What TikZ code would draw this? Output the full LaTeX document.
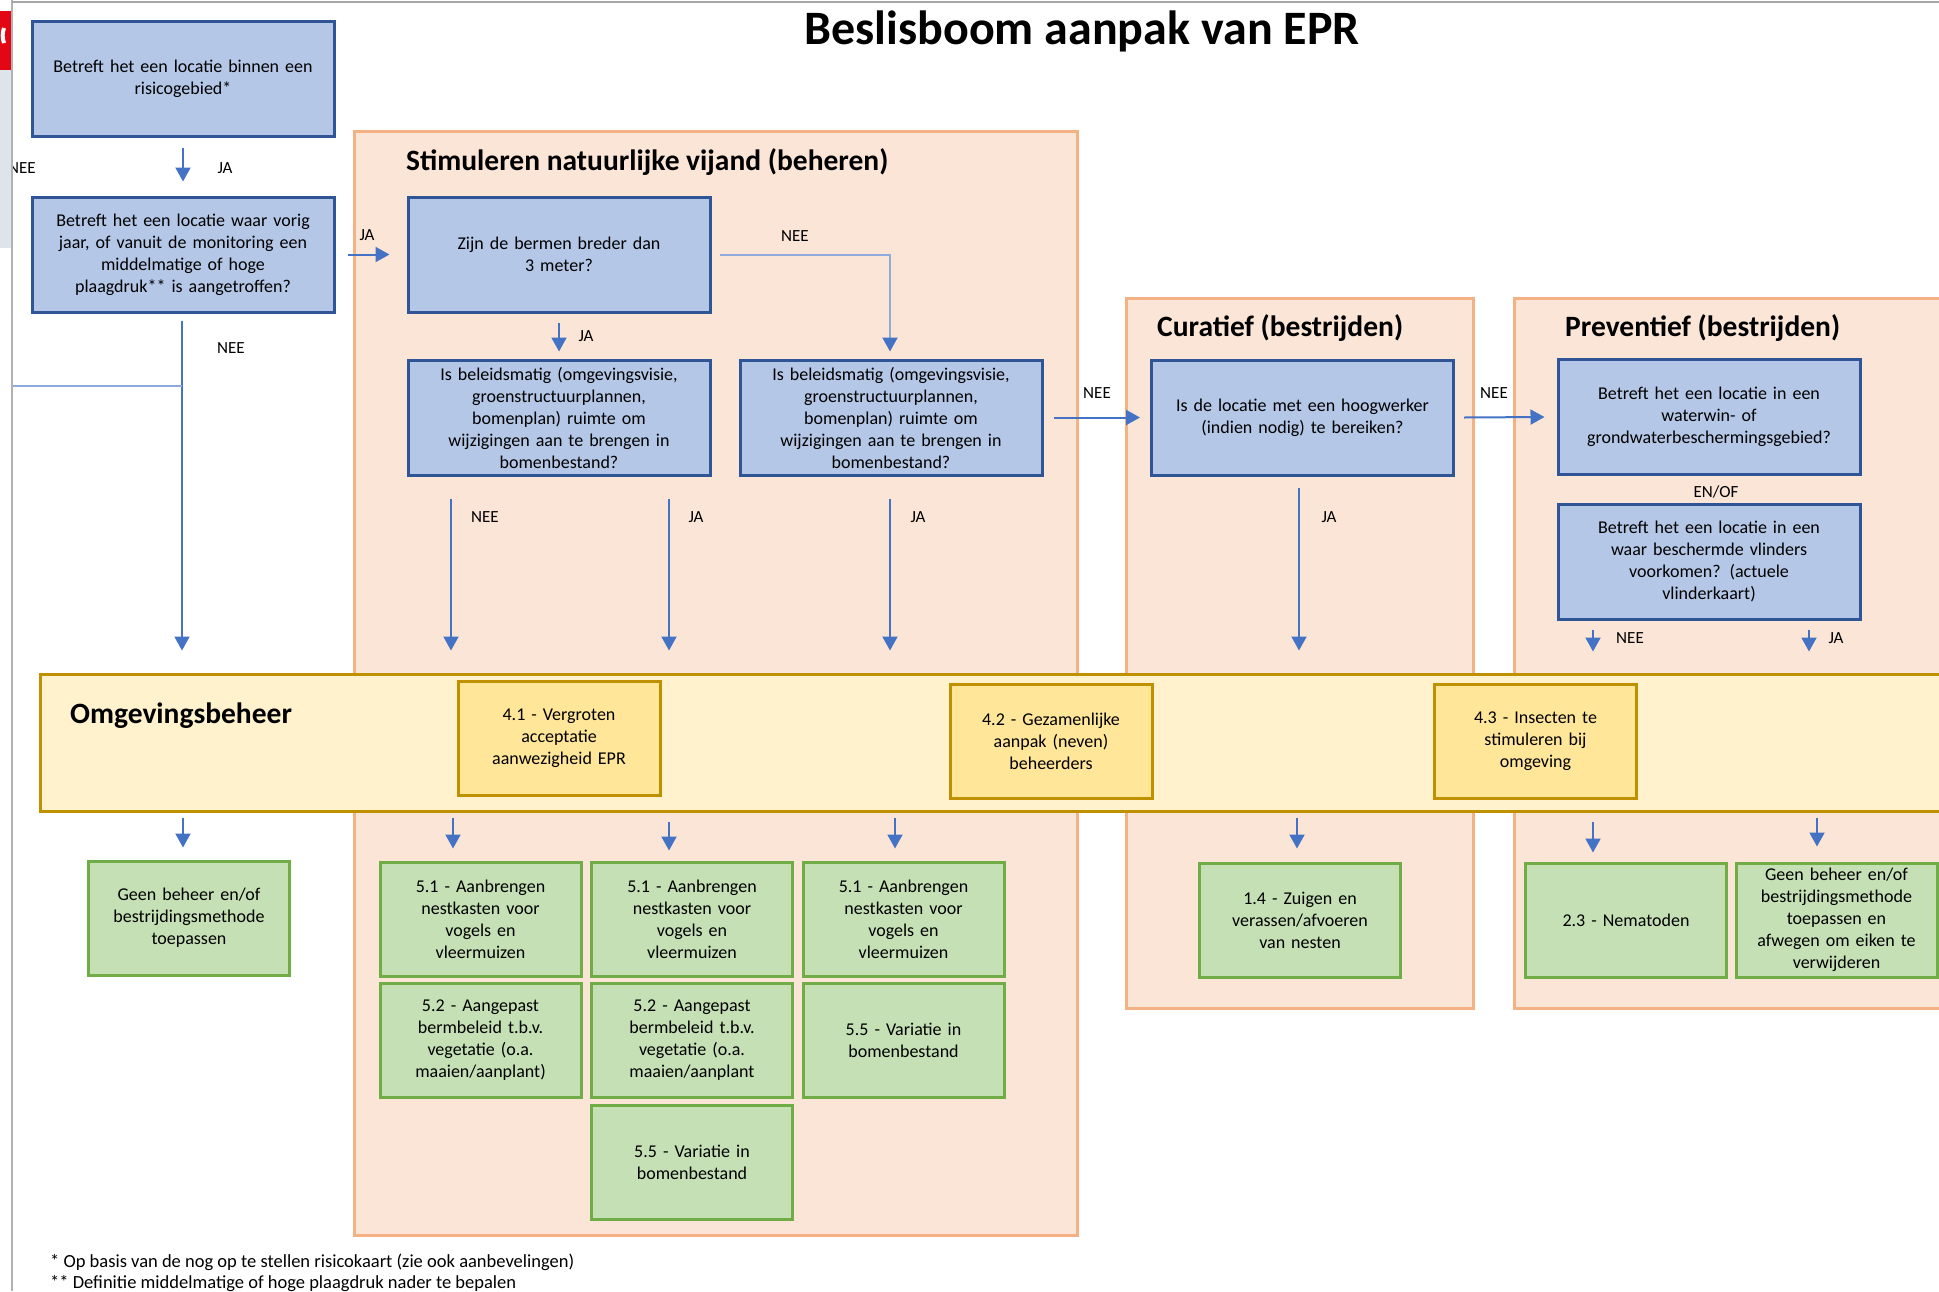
\documentclass[tikz,border=0pt]{standalone}
\usepackage{fontspec}
\setmainfont{Carlito}
\usetikzlibrary{arrows.meta,calc,positioning}

\definecolor{bluefill}{HTML}{B4C7E7}
\definecolor{blueline}{HTML}{2F5597}
\definecolor{orangefill}{HTML}{FBE5D6}
\definecolor{orangeline}{HTML}{F4B183}
\definecolor{bandfill}{HTML}{FFF2CC}
\definecolor{goldline}{HTML}{BF9000}
\definecolor{yelfill}{HTML}{FFE699}
\definecolor{greenfill}{HTML}{C5E0B4}
\definecolor{greenline}{HTML}{70AD47}
\definecolor{arrowblue}{HTML}{4472C4}
\definecolor{paleblue}{HTML}{8FAADC}
\definecolor{logored}{HTML}{E30613}
\definecolor{sidegrey}{HTML}{DFE4EA}

\begin{document}
\begin{tikzpicture}[x=1pt,y=-1pt,
	boxtext/.style={font=\fontsize{18}{22}\selectfont, align=center, inner sep=0pt},
	qbox/.style={boxtext, rectangle, draw=blueline, fill=bluefill, line width=3pt,
		minimum width=302pt, minimum height=115pt, text width=290pt},
	ybox/.style={boxtext, rectangle, draw=goldline, fill=yelfill, line width=3pt,
		minimum width=202pt, minimum height=114pt, text width=192pt},
	gbox/.style={boxtext, rectangle, draw=greenline, fill=greenfill, line width=3pt,
		minimum width=201pt, minimum height=114pt, text width=192pt},
	panel/.style={rectangle, draw=orangeline, fill=orangefill, line width=3pt, inner sep=0pt},
	bandbox/.style={rectangle, draw=goldline, fill=bandfill, line width=3pt, inner sep=0pt},
	paneltitle/.style={font=\fontsize{29.5}{34}\selectfont\bfseries, anchor=west, inner sep=0pt},
	lbl/.style={font=\fontsize{17}{20}\selectfont, inner sep=0pt},
	note/.style={font=\fontsize{18.5}{22}\selectfont, anchor=west, inner sep=0pt},
	arr/.style={draw=arrowblue, line width=2pt, -{Triangle[length=14pt,width=15pt]}},
	palearr/.style={draw=paleblue, line width=2pt, -{Triangle[length=14pt,width=15pt,color=arrowblue]}},
	paleline/.style={draw=paleblue, line width=1.5pt}]

\useasboundingbox (0,0) rectangle (1939,1291);
\clip (0,0) rectangle (1939,1291);
\fill[white] (0,0) rectangle (1939,1291);

% columns of the long arrows
\coordinate (k0) at (182,0);
\coordinate (k1) at (451,0);
\coordinate (k2) at (669,0);
\coordinate (k3) at (890,0);
\coordinate (k4) at (1299,0);
\coordinate (k5) at (1593,0);
\coordinate (k6) at (1809,0);

% panels
\node[panel, minimum width=723pt, minimum height=1104pt] (stim) at (715.5,683) {};
\node[panel, minimum width=347pt, minimum height=710pt] (cur) at (1299.5,653) {};
\node[panel, minimum width=460pt, minimum height=710pt] (prev) at (1744,653) {};
\node[paneltitle] (stimtitle) at (406,162) {Stimuleren natuurlijke vijand (beheren)};
\node[paneltitle] (curtitle) at (1157,328) {Curatief (bestrijden)};
\node[paneltitle] (prevtitle) at (1565,328) {Preventief (bestrijden)};

% band
\node[bandbox, minimum width=1930pt, minimum height=137pt] (band) at (1005,742.5) {};
\node[paneltitle] (bandtitle) at (70,716) {Omgevingsbeheer};

% title
\node[font=\fontsize{48}{56}\selectfont\bfseries, inner sep=0pt] (title) at (1082,31) {Beslisboom aanpak van EPR};

% questions
\node[qbox] (q1) at (183,78.5) {Betreft het een locatie binnen een\\risicogebied*};
\node[qbox] (q2) at (183,254.5) {Betreft het een locatie waar vorig\\jaar, of vanuit de monitoring een\\middelmatige of hoge\\plaagdruk** is aangetroffen?};
\node[qbox] (z) at (559,254.5) {Zijn de bermen breder dan\\3 meter?};
\node[qbox] (p1) at (559,417.5) {Is beleidsmatig (omgevingsvisie,\\groenstructuurplannen,\\bomenplan) ruimte om\\wijzigingen aan te brengen in\\bomenbestand?};
\node[qbox] (p2) at (891,417.5) {Is beleidsmatig (omgevingsvisie,\\groenstructuurplannen,\\bomenplan) ruimte om\\wijzigingen aan te brengen in\\bomenbestand?};
\node[qbox] (c) at (1302.5,417.5) {Is de locatie met een hoogwerker\\(indien nodig) te bereiken?};
\node[qbox] (pv1) at (1709,417) {Betreft het een locatie in een\\waterwin- of\\grondwaterbeschermingsgebied?};
\node[qbox] (pv2) at (1709,561.5) {Betreft het een locatie in een\\waar beschermde vlinders\\voorkomen? (actuele\\vlinderkaart)};
\node[lbl] (enof) at (1716,492) {EN/OF};

% measures in the band
\node[ybox] (y41) at (559,738) {4.1 - Vergroten\\acceptatie\\aanwezigheid EPR};
\node[ybox] (y42) at (1051,741) {4.2 - Gezamenlijke\\aanpak (neven)\\beheerders};
\node[ybox] (y43) at (1535.5,741) {4.3 - Insecten te\\stimuleren bij\\omgeving};

% measures
\node[gbox] (g0) at (189,918) {Geen beheer en/of\\bestrijdingsmethode\\toepassen};
\node[gbox] (g51a) at (480.5,919) {5.1 - Aanbrengen\\nestkasten voor\\vogels en\\vleermuizen};
\node[gbox] (g52a) at (480.5,1040) {5.2 - Aangepast\\bermbeleid t.b.v.\\vegetatie (o.a.\\maaien/aanplant)};
\node[gbox] (g51b) at (692,919) {5.1 - Aanbrengen\\nestkasten voor\\vogels en\\vleermuizen};
\node[gbox] (g52b) at (692,1040) {5.2 - Aangepast\\bermbeleid t.b.v.\\vegetatie (o.a.\\maaien/aanplant};
\node[gbox] (g55b) at (692,1162) {5.5 - Variatie in\\bomenbestand};
\node[gbox] (g51c) at (903.5,919) {5.1 - Aanbrengen\\nestkasten voor\\vogels en\\vleermuizen};
\node[gbox] (g55c) at (903.5,1040) {5.5 - Variatie in\\bomenbestand};
\node[gbox] (g14) at (1300,920) {1.4 - Zuigen en\\verassen/afvoeren\\van nesten};
\node[gbox] (g23) at (1626,920) {2.3 - Nematoden};
\node[gbox] (gend) at (1836.5,920) {Geen beheer en/of\\bestrijdingsmethode\\toepassen en\\afwegen om eiken te\\verwijderen};

% footnotes
\node[note] (fn1) at (50,1262) {* Op basis van de nog op te stellen risicokaart (zie ook aanbevelingen)};
\node[note] (fn2) at (50,1284) {** Definitie middelmatige of hoge plaagdruk nader te bepalen};

% arrows between questions
\draw[arr] ($(q1.south)+(0,10)$) -- ($(q2.north)+(0,-14)$);
\draw[arr] ($(q2.east)+(12,0)$) -- ($(z.west)+(-17,0)$);
\draw[arr] ($(z.south)+(0,9)$) -- ($(p1.north)+(0,-7)$);
\draw[palearr] ($(z.east)+(8,0)$) -| ($(p2.north -| k3)+(0,-7)$);
\draw[arr] ($(p2.east)+(10,0)$) -- ($(c.west)+(-10,0)$);
\draw[arr] ($(c.east)+(9,0)$) -- ($(pv1.west)+(-12,0)$);

% arrows down to the band
\draw[arr] ($(q2.south -| k0)+(0,7)$) -- ($(band.north -| k0)+(0,-22)$);
\draw[arr] ($(p1.south -| k1)+(0,22)$) -- ($(band.north -| k1)+(0,-22)$);
\draw[arr] ($(p1.south -| k2)+(0,22)$) -- ($(band.north -| k2)+(0,-22)$);
\draw[arr] ($(p2.south -| k3)+(0,22)$) -- ($(band.north -| k3)+(0,-22)$);
\draw[arr] ($(c.south -| k4)+(0,11)$) -- ($(band.north -| k4)+(0,-22)$);
\draw[arr] ($(pv2.south -| k5)+(0,9)$) -- ($(band.north -| k5)+(0,-21)$);
\draw[arr] ($(pv2.south -| k6)+(0,9)$) -- ($(band.north -| k6)+(0,-21)$);

% arrows from the band to the measures
\draw[arr] ($(band.south -| k0)+(1,5)$) -- ($(g0.north -| k0)+(1,-12)$);
\draw[arr] ($(band.south -| k1)+(2,5)$) -- ($(g51a.north -| k1)+(2,-12)$);
\draw[arr] ($(band.south -| k2)+(0,9)$) -- ($(g51b.north -| k2)+(0,-10)$);
\draw[arr] ($(band.south -| k3)+(5,5)$) -- ($(g51c.north -| k3)+(5,-12)$);
\draw[arr] ($(band.south -| k4)+(-2,5)$) -- ($(g14.north -| k4)+(-2,-13)$);
\draw[arr] ($(band.south -| k5)+(0,9)$) -- ($(g23.north -| k5)+(0,-9)$);
\draw[arr] ($(band.south -| k6)+(8,5)$) -- ($(gend.north -| k6)+(8,-15)$);

% labels
\node[lbl] (ja1) at (225,168) {JA};
\node[lbl] (nee0) at (22,168) {NEE};
\node[lbl] (ja2) at (367,235) {JA};
\node[lbl] (nee1) at (231,348) {NEE};
\node[lbl] (ja3) at (586,336) {JA};
\node[lbl] (nee2) at (795,236) {NEE};
\node[lbl] (nee3) at (485,517) {NEE};
\node[lbl] (ja4) at (696,517) {JA};
\node[lbl] (ja5) at (918,517) {JA};
\node[lbl] (nee4) at (1097,393) {NEE};
\node[lbl] (ja6) at (1329,517) {JA};
\node[lbl] (nee5) at (1494,393) {NEE};
\node[lbl] (nee6) at (1630,638) {NEE};
\node[lbl] (ja7) at (1836,638) {JA};

% edge of the page
\coordinate (lft) at (12,386);
\draw[paleline] (lft) -- (lft -| k0);
\fill[logored] (0,11) rectangle (11,70);
\fill[sidegrey] (0,70) rectangle (11,248);
\draw[white, line width=4pt] (4,28) arc (200:160:22);
\draw[black!30, line width=2pt] (11.5,0) -- (11.5,1291);
\draw[black!35, line width=2pt] (11.5,1.5) -- (1939,1.5);
\end{tikzpicture}
\end{document}
